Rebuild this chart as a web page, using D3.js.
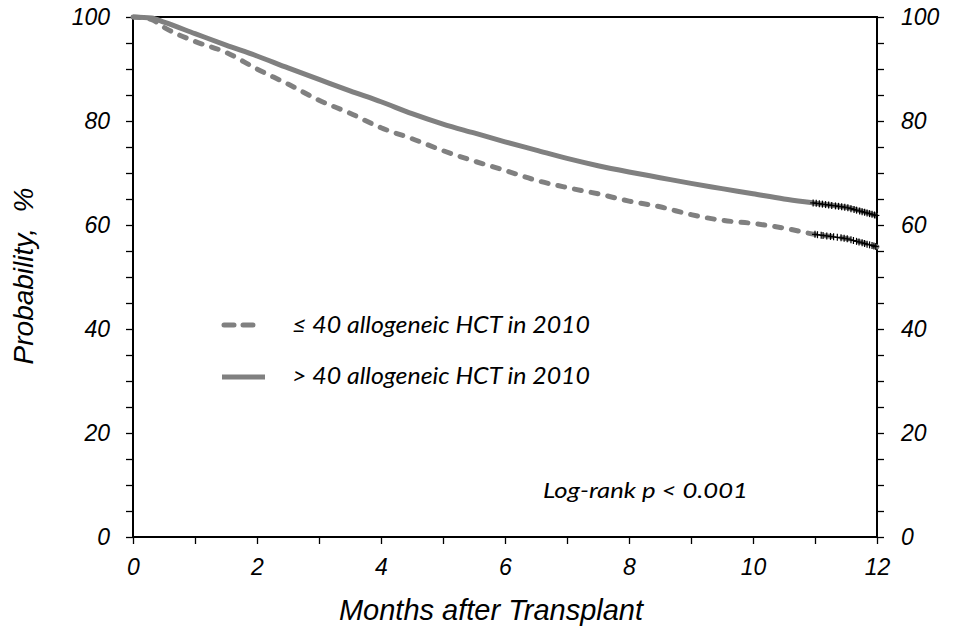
<!DOCTYPE html>
<html>
<head>
<meta charset="utf-8">
<script src="https://cdn.jsdelivr.net/npm/d3@7"></script>
<style>
  body { margin: 0; background: #fff; }
  svg { display: block; }
</style>
</head>
<body>
<div id="chart"></div>
<script>
// datos
var meses = [0, 0.3, 0.5, 1, 1.5, 2, 2.5, 3, 3.5, 4, 4.5, 5, 5.5, 6, 6.5, 7, 7.5, 8, 8.5, 9, 9.5, 10, 10.5, 11, 11.5, 12];
var serieMenor = [100, 99.5, 98.0, 95.3, 93.2, 90.0, 87.1, 84.0, 81.5, 78.7, 76.6, 74.3, 72.3, 70.5, 68.6, 67.2, 66.0, 64.6, 63.5, 62.0, 60.9, 60.3, 59.4, 58.2, 57.4, 55.8];
var serieMayor = [100, 99.8, 99.0, 96.8, 94.6, 92.5, 90.2, 88.0, 85.8, 83.7, 81.4, 79.4, 77.7, 76.0, 74.4, 72.8, 71.4, 70.2, 69.1, 68.0, 67.0, 66.0, 65.0, 64.2, 63.4, 61.8];
var censuraMenor = [11.0, 11.04, 11.1, 11.13, 11.19, 11.25, 11.3, 11.36, 11.42, 11.47, 11.52, 11.58, 11.62, 11.67, 11.71, 11.76, 11.8, 11.84, 11.88, 11.92, 11.95, 11.98];
var censuraMayor = [10.97, 11.02, 11.07, 11.12, 11.17, 11.22, 11.27, 11.33, 11.38, 11.43, 11.48, 11.53, 11.58, 11.63, 11.67, 11.72, 11.76, 11.8, 11.84, 11.88, 11.92, 11.96, 11.99];
var ticksY = [0, 20, 40, 60, 80, 100];
var ticksYmenor = [0, 5, 10, 15, 20, 25, 30, 35, 40, 45, 50, 55, 60, 65, 70, 75, 80, 85, 90, 95, 100];
var ticksX = [0, 2, 4, 6, 8, 10, 12];
var ticksXmenor = [0, 1, 2, 3, 4, 5, 6, 7, 8, 9, 10, 11, 12];
var leyenda = ["\u2264 40 allogeneic HCT in 2010", "> 40 allogeneic HCT in 2010"];

var margin = {top: 17, right: 79, bottom: 95, left: 133},
  ancho = 956 - margin.left - margin.right,
  altura = 632 - margin.top - margin.bottom;

var svg = d3.select("#chart")
.append("svg")
  .attr("width", 956)
  .attr("height", 632)
.append("g")
  .attr("transform", "translate(" + margin.left + "," + margin.top + ")");

var x = d3.scaleLinear().domain([0, 12]).range([0, ancho]);
var y = d3.scaleLinear().domain([0, 100]).range([altura, 0]);

var fuenteEje = "'Liberation Sans', Arial, sans-serif";
var fuenteTexto = "Lato, 'Open Sans', sans-serif";

// ticks menores (sin etiqueta)
function ejeMenor(g) {
  g.selectAll("text").remove();
  g.select(".domain").remove();
  g.selectAll("line").attr("stroke", "#000").attr("stroke-width", 1.3);
}
svg.append("g").call(d3.axisLeft(y).tickValues(ticksYmenor).tickSize(7)).call(ejeMenor);
svg.append("g").attr("transform", "translate(" + ancho + ",0)")
  .call(d3.axisRight(y).tickValues(ticksYmenor).tickSize(7)).call(ejeMenor);
svg.append("g").attr("transform", "translate(0," + altura + ")")
  .call(d3.axisBottom(x).tickValues(ticksXmenor).tickSize(7)).call(ejeMenor);

// etiquetas de los ejes
function ejeMayor(g) {
  g.select(".domain").remove();
  g.selectAll("line").remove();
  g.selectAll("text")
    .style("font-family", fuenteEje)
    .style("font-style", "italic")
    .style("font-size", "23px")
    .attr("fill", "#000");
}
svg.append("g").call(d3.axisLeft(y).tickValues(ticksY).tickSize(7).tickPadding(16)).call(ejeMayor);
svg.append("g").attr("transform", "translate(" + ancho + ",0)")
  .call(d3.axisRight(y).tickValues(ticksY).tickSize(7).tickPadding(17)).call(ejeMayor);
svg.append("g").attr("transform", "translate(0," + altura + ")")
  .call(d3.axisBottom(x).tickValues(ticksX).tickSize(7).tickPadding(15)).call(ejeMayor);

// marco
svg.append("rect")
  .attr("x", 0).attr("y", 0)
  .attr("width", ancho).attr("height", altura)
  .attr("fill", "none")
  .attr("stroke", "#000")
  .attr("stroke-width", 2);

// curvas
var linea = d3.line()
  .x(function(d) { return x(d[0]); })
  .y(function(d) { return y(d[1]); })
  .curve(d3.curveMonotoneX);

var datosMenor = meses.map(function(m, i) { return [m, serieMenor[i]]; });
var datosMayor = meses.map(function(m, i) { return [m, serieMayor[i]]; });

svg.append("path")
  .datum(datosMayor)
  .attr("d", linea)
  .attr("fill", "none")
  .attr("stroke", "#808080")
  .attr("stroke-width", 5);

svg.append("path")
  .datum(datosMenor)
  .attr("d", linea)
  .attr("fill", "none")
  .attr("stroke", "#808080")
  .attr("stroke-width", 5)
  .attr("stroke-linecap", "round")
  .attr("stroke-dasharray", "7,10");

// marcas de censura
function valorEn(serie, t) {
  var i = d3.bisectRight(meses, t) - 1;
  if (i >= meses.length - 1) return serie[meses.length - 1];
  var f = (t - meses[i]) / (meses[i + 1] - meses[i]);
  return serie[i] + f * (serie[i + 1] - serie[i]);
}
function censuras(tiempos, serie) {
  var g = svg.append("g").attr("stroke", "#000").attr("stroke-width", 1.2);
  tiempos.forEach(function(t) {
    var cx = x(t), cy = y(valorEn(serie, t));
    g.append("line").attr("x1", cx - 3).attr("x2", cx + 3).attr("y1", cy).attr("y2", cy);
    g.append("line").attr("x1", cx).attr("x2", cx).attr("y1", cy - 3.5).attr("y2", cy + 3.5);
  });
}
censuras(censuraMenor, serieMenor);
censuras(censuraMayor, serieMayor);

// leyenda
var leg = svg.append("g").attr("transform", "translate(" + (222 - margin.left) + "," + (325 - margin.top) + ")");
leg.append("line")
  .attr("x1", 2).attr("x2", 34).attr("y1", 0).attr("y2", 0)
  .attr("stroke", "#808080").attr("stroke-width", 5)
  .attr("stroke-linecap", "round").attr("stroke-dasharray", "10,9");
leg.append("line")
  .attr("x1", 0).attr("x2", 43).attr("y1", 52).attr("y2", 52)
  .attr("stroke", "#808080").attr("stroke-width", 5);
leg.selectAll("text.leyenda")
  .data(leyenda)
  .enter()
  .append("text")
    .attr("class", "leyenda")
    .attr("x", 70)
    .attr("y", function(d, i) { return 8 + i * 51; })
    .attr("textLength", 298)
    .attr("lengthAdjust", "spacingAndGlyphs")
    .style("font-family", fuenteTexto)
    .style("font-style", "italic")
    .style("font-size", "24px")
    .text(function(d) { return d; });

// valor p
svg.append("text")
  .attr("x", 543 - margin.left)
  .attr("y", 498 - margin.top)
  .attr("textLength", 205)
  .attr("lengthAdjust", "spacingAndGlyphs")
  .style("font-family", fuenteTexto)
  .style("font-style", "italic")
  .style("font-size", "21px")
  .text("Log-rank p < 0.001");

// titulos
svg.append("text")
  .attr("x", 491 - margin.left)
  .attr("y", 620 - margin.top)
  .attr("text-anchor", "middle")
  .style("font-family", fuenteEje)
  .style("font-style", "italic")
  .style("font-size", "29px")
  .text("Months after Transplant");

svg.append("text")
  .attr("transform", "translate(" + (33 - margin.left) + "," + (276 - margin.top) + ") rotate(-90)")
  .attr("text-anchor", "middle")
  .style("font-family", fuenteEje)
  .style("font-style", "italic")
  .style("font-size", "28px")
  .style("white-space", "pre")
  .text("Probability,  %");
</script>
</body>
</html>
